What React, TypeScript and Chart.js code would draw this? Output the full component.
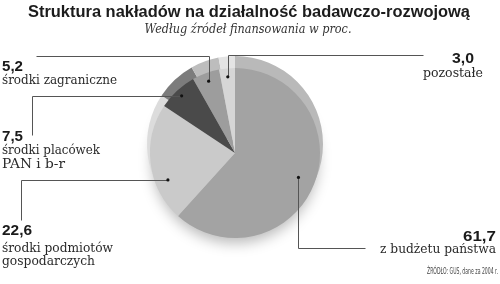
import React, { useEffect, useRef } from "react";
import { Chart, registerables } from "chart.js";

Chart.register(...registerables);

const categories = [
  "z budżetu państwa",
  "środki podmiotów gospodarczych",
  "środki placówek PAN i b-r",
  "środki zagraniczne",
  "pozostałe",
];
const values = [61.7, 22.6, 7.5, 5.2, 3.0];
const valueLabels = ["61,7", "22,6", "7,5", "5,2", "3,0"];
const labelLines = [
  ["z budżetu państwa"],
  ["środki podmiotów", "gospodarczych"],
  ["środki placówek", "PAN i b-r"],
  ["środki zagraniczne"],
  ["pozostałe"],
];
const faceColors = ["#a3a3a3", "#cacaca", "#4a4a4a", "#9d9d9d", "#d6d6d6"];
const rimColors = ["#b9b9b9", "#dcdcdc", "#7c7c7c", "#bdbdbd", "#e4e4e4"];
const titleText = "Struktura nakładów na działalność badawczo-rozwojową";
const subtitleText = "Według źródeł finansowania w proc.";
const sourceText = "ŹRÓDŁO: GUS, dane za 2004 r.";

type Step = { h?: number; v?: number };
type Callout = {
  frac: number;
  rFrac: number;
  path: Step[];
  align: "left" | "right" | "center";
  num: { x: number; y: number; w: number };
  lines: { x: number; y: number; w: number }[];
};

const callouts: Callout[] = [
  {
    frac: 0.5,
    rFrac: 0.8,
    path: [{ v: 248 }, { h: 365 }],
    align: "right",
    num: { x: 496, y: 241, w: 33 },
    lines: [{ x: 496, y: 253, w: 116 }],
  },
  {
    frac: 0.32,
    rFrac: 0.85,
    path: [{ h: 21 }, { v: 220 }],
    align: "left",
    num: { x: 2, y: 235, w: 30 },
    lines: [
      { x: 2, y: 252, w: 111 },
      { x: 2, y: 265, w: 93 },
    ],
  },
  {
    frac: 0.5,
    rFrac: 0.92,
    path: [{ h: 32 }, { v: 135 }],
    align: "left",
    num: { x: 2, y: 141, w: 21 },
    lines: [
      { x: 2, y: 154, w: 98 },
      { x: 2, y: 168, w: 63 },
    ],
  },
  {
    frac: 0.5,
    rFrac: 0.9,
    path: [{ v: 56 }, { h: 36 }],
    align: "left",
    num: { x: 2, y: 71, w: 21 },
    lines: [{ x: 2, y: 84, w: 115 }],
  },
  {
    frac: 0.5,
    rFrac: 0.9,
    path: [{ v: 55 }, { h: 423 }],
    align: "center",
    num: { x: 463, y: 63, w: 22 },
    lines: [{ x: 453, y: 77, w: 60 }],
  },
];

const RIM_OFFSET = 9;
const RIM_GROW = 3;

function fitText(
  ctx: CanvasRenderingContext2D,
  text: string,
  x: number,
  y: number,
  font: string,
  width: number,
  align: "left" | "right" | "center",
  color: string
) {
  ctx.save();
  ctx.font = font;
  ctx.fillStyle = color;
  ctx.textAlign = "left";
  ctx.textBaseline = "alphabetic";
  const w = ctx.measureText(text).width || 1;
  const s = width / w;
  const left = align === "left" ? x : align === "right" ? x - width : x - width / 2;
  ctx.translate(left, y);
  ctx.scale(s, 1);
  ctx.fillText(text, 0, 0);
  ctx.restore();
}

const decorPlugin = {
  id: "decor",
  beforeDatasetsDraw(chart: any) {
    const ctx: CanvasRenderingContext2D = chart.ctx;
    const meta = chart.getDatasetMeta(0);
    if (!meta || !meta.data.length) return;
    const el0 = meta.data[0];
    const cx = el0.x;
    const cy = el0.y;
    const r = el0.outerRadius;
    // soft shadow
    ctx.save();
    ctx.shadowColor = "rgba(0,0,0,0.28)";
    ctx.shadowBlur = 14;
    ctx.shadowOffsetY = 7;
    ctx.fillStyle = "#bbbbbb";
    ctx.beginPath();
    ctx.arc(cx, cy, r - 2, 0, Math.PI * 2);
    ctx.fill();
    ctx.restore();
    // rim (3D thickness)
    meta.data.forEach((el: any, i: number) => {
      ctx.save();
      ctx.fillStyle = rimColors[i];
      ctx.beginPath();
      ctx.moveTo(el.x, el.y - RIM_OFFSET);
      ctx.arc(el.x, el.y - RIM_OFFSET, el.outerRadius + RIM_GROW, el.startAngle, el.endAngle);
      ctx.closePath();
      ctx.fill();
      ctx.restore();
    });
  },
  afterDatasetsDraw(chart: any) {
    const ctx: CanvasRenderingContext2D = chart.ctx;
    const meta = chart.getDatasetMeta(0);
    const numFont = "bold 15px 'Liberation Sans', Arial, sans-serif";
    const txtFont = "13px 'DejaVu Serif', serif";
    meta.data.forEach((el: any, i: number) => {
      const c = callouts[i];
      const a = el.startAngle + (el.endAngle - el.startAngle) * c.frac;
      const rr = el.outerRadius * c.rFrac;
      const dx = el.x + Math.cos(a) * rr;
      const dy = el.y + Math.sin(a) * rr;
      ctx.save();
      ctx.strokeStyle = "#555555";
      ctx.lineWidth = 1;
      ctx.beginPath();
      let px = Math.round(dx) + 0.5;
      let py = Math.round(dy) + 0.5;
      ctx.moveTo(px, py);
      c.path.forEach((s) => {
        if (s.h !== undefined) px = s.h + 0.5;
        if (s.v !== undefined) py = s.v + 0.5;
        ctx.lineTo(px, py);
      });
      ctx.stroke();
      ctx.fillStyle = "#111111";
      ctx.beginPath();
      ctx.arc(dx, dy, 1.6, 0, Math.PI * 2);
      ctx.fill();
      ctx.restore();
      fitText(ctx, valueLabels[i], c.num.x, c.num.y, numFont, c.num.w, c.align, "#1a1a1a");
      labelLines[i].forEach((t, j) => {
        const p = c.lines[j];
        fitText(ctx, t, p.x, p.y, txtFont, p.w, c.align, "#2a2a2a");
      });
    });
    fitText(ctx, titleText, 249, 17, "bold 17px 'Liberation Sans', Arial, sans-serif", 442, "center", "#1c1c1c");
    fitText(ctx, subtitleText, 248, 33, "italic 13px 'DejaVu Serif', serif", 207, "center", "#333333");
    fitText(ctx, sourceText, 498, 274, "8px 'DejaVu Sans', sans-serif", 71, "right", "#444444");
  },
};

export default function App() {
  const ref = useRef<HTMLCanvasElement | null>(null);
  useEffect(() => {
    document.body.style.margin = "0";
    if (!ref.current) return;
    const chart = new Chart(ref.current, {
      type: "pie",
      data: {
        labels: categories,
        datasets: [
          {
            data: values,
            backgroundColor: faceColors,
            borderWidth: 0,
          },
        ],
      },
      options: {
        animation: false,
        responsive: true,
        maintainAspectRatio: false,
        layout: { padding: { left: 150, right: 180, top: 68, bottom: 46 } },
        plugins: {
          legend: { display: false },
          tooltip: { enabled: false },
          title: { display: false },
        },
      },
      plugins: [decorPlugin],
    });
    return () => chart.destroy();
  }, []);
  return (
    <div style={{ width: 500, height: 284, position: "relative", background: "#ffffff" }}>
      <canvas ref={ref} />
    </div>
  );
}
